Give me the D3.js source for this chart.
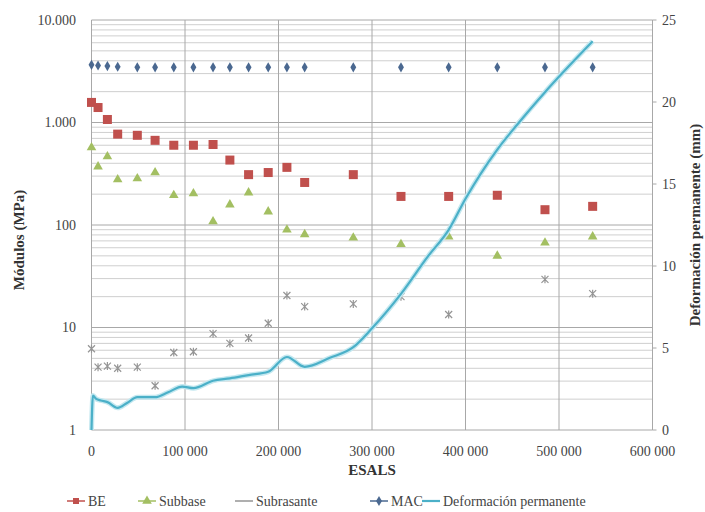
<!DOCTYPE html>
<html>
<head>
<meta charset="utf-8">
<script src="https://cdn.jsdelivr.net/npm/d3@7"></script>
</head>
<body style="margin:0">
<svg id="chart" width="705" height="512"></svg>
<script>
// ESALs at which the layer moduli were back-calculated
var esals = [0, 7000, 17000, 28000, 49000, 68000, 88000, 109000, 130000, 148000,
             168000, 189000, 209000, 228000, 280000, 331000, 382000, 434000, 485000, 536000];

// moduli (MPa), log axis
var be = [1570, 1400, 1070, 770, 750, 670, 600, 600, 610, 430,
          310, 325, 365, 260, 310, 190, 190, 195, 141, 152];
var subbase = [571, 371, 465, 278, 284, 325, 195, 203, 108, 158,
               207, 135, 90, 81, 75, 65, 77, 50, 67, 77];
var subrasante = [6.2, 4.1, 4.2, 4.0, 4.1, 2.7, 5.7, 5.8, 8.7, 7.0,
                  7.9, 11, 20.5, 16, 17, 20, 13.4, null, 29.5, 21.4];
var mac = [3650, 3600, 3550, 3500, 3450, 3450, 3450, 3450, 3450, 3450,
           3450, 3450, 3450, 3450, 3450, 3450, 3450, 3450, 3450, 3450];

// permanent deformation (mm), right axis
var defEsals = [0, 1500, 5000, 10000, 17000, 28000, 38000, 49000, 68000, 82000,
                97000, 109000, 130000, 148000, 168000, 189000, 209000, 228000, 255000, 280000,
                300000, 331000, 360000, 382000, 400000, 434000, 455000, 485000, 536000];
var defVals = [0, 2.1, 1.9, 1.8, 1.7, 1.35, 1.65, 2.0, 2.0, 2.3,
               2.65, 2.55, 3.0, 3.15, 3.35, 3.55, 4.45, 3.85, 4.4, 5.05,
               6.2, 8.3, 10.6, 12.2, 14.1, 17.1, 18.6, 20.6, 23.7];

var xTicks = [0, 100000, 200000, 300000, 400000, 500000, 600000];
var yLeftTicks = [1, 10, 100, 1000, 10000];
var yRightTicks = [0, 5, 10, 15, 20, 25];

var legendNames = ["BE", "Subbase", "Subrasante", "MAC", "Deformación permanente"];

var svg = d3.select("#chart");

var x = d3.scaleLinear().domain([0, 600000]).range([91.5, 652.5]);
var yL = d3.scaleLog().domain([1, 10000]).range([430, 20]);
var yR = d3.scaleLinear().domain([0, 25]).range([430, 20]);

var colors = {
  be: "#c0504d",
  subbase: "#a3bf62",
  subrasante: "#959595",
  mac: "#4a6890",
  def: "#4bb0c8"
};

function label(sel) {
  return sel.style("font-family", "'Liberation Serif'").style("font-size", "14px")
    .style("fill", "#444");
}
function title(sel) {
  return sel.style("font-family", "'Liberation Serif'").style("font-size", "15px")
    .style("font-weight", "bold").style("fill", "#333");
}

var grid = svg.append("g");

// minor horizontal gridlines of the log axis
var minors = [];
for (var d = 1; d < 10000; d *= 10) {
  for (var k = 2; k <= 9; k++) minors.push(d * k);
}
grid.selectAll(".minor").data(minors).enter().append("line")
    .attr("x1", x(0)).attr("x2", x(600000))
    .attr("y1", function(v) { return yL(v); })
    .attr("y2", function(v) { return yL(v); })
    .attr("stroke", "#cfcfcf").attr("stroke-width", 1);

grid.selectAll(".major").data(yLeftTicks).enter().append("line")
    .attr("x1", x(0)).attr("x2", x(600000))
    .attr("y1", function(v) { return yL(v); })
    .attr("y2", function(v) { return yL(v); })
    .attr("stroke", "#a8a8a8").attr("stroke-width", 1);

grid.selectAll(".vert").data(xTicks).enter().append("line")
    .attr("x1", function(v) { return x(v); })
    .attr("x2", function(v) { return x(v); })
    .attr("y1", yL(10000)).attr("y2", yL(1))
    .attr("stroke", "#a8a8a8").attr("stroke-width", 1);

// right axis ticks
grid.selectAll(".rtick").data(yRightTicks).enter().append("line")
    .attr("x1", x(600000)).attr("x2", x(600000) + 4)
    .attr("y1", function(v) { return yR(v); })
    .attr("y2", function(v) { return yR(v); })
    .attr("stroke", "#a8a8a8");

// tick labels
var fmtDots = function(v) { return d3.format(",")(v).replace(/,/g, "."); };
var fmtSpace = function(v) { return d3.format(",")(v).replace(/,/g, " "); };

svg.selectAll(".ylab").data(yLeftTicks).enter().append("text")
    .call(label)
    .attr("x", 76).attr("y", function(v) { return yL(v); })
    .attr("dy", "0.35em").attr("text-anchor", "end")
    .text(fmtDots);

svg.selectAll(".rlab").data(yRightTicks).enter().append("text")
    .call(label)
    .attr("x", 662).attr("y", function(v) { return yR(v); })
    .attr("dy", "0.35em").attr("text-anchor", "start")
    .text(function(v) { return v; });

svg.selectAll(".xlab").data(xTicks).enter().append("text")
    .call(label)
    .attr("x", function(v) { return x(v); }).attr("y", 456)
    .attr("text-anchor", "middle")
    .text(fmtSpace);

// axis titles
svg.append("text").call(title)
    .attr("transform", "translate(24,240) rotate(-90)")
    .attr("text-anchor", "middle")
    .text("Módulos (MPa)");

svg.append("text").call(title)
    .attr("transform", "translate(700,225) rotate(-90)")
    .attr("text-anchor", "middle")
    .text("Deformación permanente (mm)");

svg.append("text").call(title)
    .attr("x", 372).attr("y", 475)
    .attr("text-anchor", "middle").text("ESALS");

// marker drawers
function square(g, cx, cy, c) {
  g.append("rect").attr("x", cx - 4.5).attr("y", cy - 4.5)
    .attr("width", 9).attr("height", 9).attr("fill", c);
}
function triangle(g, cx, cy, c) {
  g.append("path").attr("d", d3.symbol().type(d3.symbolTriangle).size(40)())
    .attr("transform", "translate(" + cx + "," + cy + ")")
    .attr("fill", c);
}
function star(g, cx, cy, c) {
  g.append("path")
    .attr("d", "M-3.5,-3.5L3.5,3.5M-3.5,3.5L3.5,-3.5M0,-4L0,4")
    .attr("transform", "translate(" + cx + "," + cy + ")")
    .attr("stroke", c).attr("stroke-width", 1.2).attr("fill", "none");
}
function dot(g, cx, cy, c) {
  g.append("path").attr("d", d3.symbol().type(d3.symbolDiamond).size(30)())
    .attr("transform", "translate(" + cx + "," + cy + ")")
    .attr("fill", c);
}

var marks = svg.append("g");
esals.forEach(function(e, i) {
  dot(marks, x(e), yL(mac[i]), colors.mac);
  square(marks, x(e), yL(be[i]), colors.be);
  if (subbase[i] != null) triangle(marks, x(e), yL(subbase[i]), colors.subbase);
  if (subrasante[i] != null) star(marks, x(e), yL(subrasante[i]), colors.subrasante);
});

// deformation line
var defData = defEsals.map(function(e, i) { return {e: e, v: defVals[i]}; });
var line = d3.line()
    .curve(d3.curveMonotoneX)
    .x(function(d) { return x(d.e); })
    .y(function(d) { return yR(d.v); });

svg.append("path").datum(defData)
    .attr("d", line).attr("fill", "none")
    .attr("stroke", "#c4e8f0").attr("stroke-width", 5);
svg.append("path").datum(defData)
    .attr("d", line).attr("fill", "none")
    .attr("stroke", colors.def).attr("stroke-width", 2.2);

// legend
var legendX = [67, 138, 235, 370, 422];
var legendColors = [colors.be, colors.subbase, colors.subrasante, colors.mac, colors.def];
var legendMarks = [square, triangle, null, dot, null];
var ly = 501;
legendNames.forEach(function(name, i) {
  var g = svg.append("g");
  var x0 = legendX[i];
  g.append("line").attr("x1", x0).attr("x2", x0 + 18)
    .attr("y1", ly).attr("y2", ly)
    .attr("stroke", legendColors[i]).attr("stroke-width", i === 4 ? 2.2 : 1.5);
  if (legendMarks[i]) {
    if (legendMarks[i] === square) {
      g.append("rect").attr("x", x0 + 6).attr("y", ly - 3).attr("width", 6).attr("height", 6)
        .attr("fill", legendColors[i]);
    } else {
      legendMarks[i](g, x0 + 9, ly, legendColors[i]);
    }
  }
  g.append("text").call(label)
    .attr("x", x0 + 21).attr("y", ly).attr("dy", "0.35em")
    .text(name);
});
</script>
</body>
</html>
